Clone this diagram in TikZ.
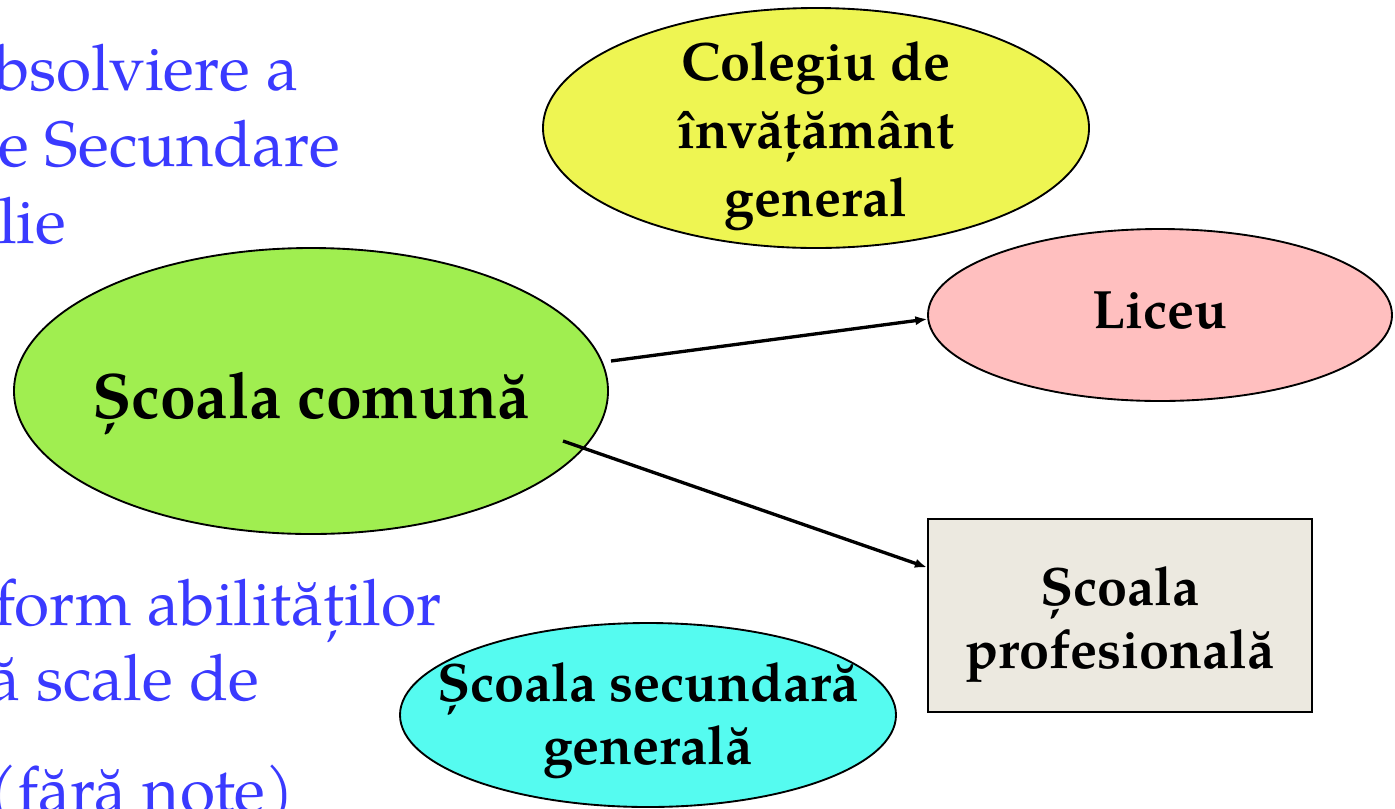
\documentclass[tikz,border=0pt]{standalone}
\usepackage{fontspec}
\setmainfont{TeX Gyre Pagella}
\usetikzlibrary{shapes.geometric,arrows.meta}
\definecolor{cgreen}{HTML}{A0EE50}
\definecolor{cyellow}{HTML}{EEF552}
\definecolor{cpink}{HTML}{FFBFBF}
\definecolor{ccyan}{HTML}{55FBF0}
\definecolor{cbox}{HTML}{ECE9E0}
\definecolor{cblue}{HTML}{3A3AFF}
\tikzset{
  oval/.style={ellipse,draw=black,line width=1.4pt,inner sep=0pt},
  boxnode/.style={rectangle,draw=black,line width=1.6pt,inner sep=0pt},
  lbl/.style={anchor=base,inner sep=0pt,font=\bfseries\fontsize{40.5}{48}\selectfont},
  bluetext/.style={anchor=base west,inner sep=0pt,text=cblue,font=\fontsize{48}{56}\selectfont},
  arr/.style={line width=2.5pt,-{Latex[length=9pt,width=7pt]}}
}
\begin{document}
\begin{tikzpicture}[x=0.75pt,y=-0.75pt]
\useasboundingbox (0,0) rectangle (1395,808);
\clip (0,0) rectangle (1395,808);
\fill[white] (0,0) rectangle (1395,808);
% left blue text
\node[bluetext] (t1) at (-6,90) {bsolviere a};
\node[bluetext] (t2) at (-2,166) {e Secundare};
\node[bluetext] (t3) at (-2,243) {lie};
\node[bluetext] (t4) at (-6,625) {form abilităților};
\node[bluetext] (t5) at (-12,700) {ă scale de};
\node[bluetext] (t6) at (-12,812) {(fără note)};
% shapes
\node[oval,fill=cyellow,minimum width=409.5pt,minimum height=180pt] (col) at (816,128) {};
\node[oval,fill=cpink,minimum width=348pt,minimum height=129pt] (li) at (1160,315) {};
\node[oval,fill=cgreen,minimum width=445.5pt,minimum height=214.5pt] (sc) at (311,391) {};
\node[oval,fill=ccyan,minimum width=372pt,minimum height=138pt] (ss) at (648,715) {};
\node[boxnode,fill=cbox,minimum width=288pt,minimum height=144.75pt] (sp) at (1120,615.5) {};
% labels
\node[lbl] (col1) at (816,80) {Colegiu de};
\node[lbl] (col2) at (816,148) {învățământ};
\node[lbl] (col3) at (816,216) {general};
\node[lbl] (li1) at (1160,328) {Liceu};
\node[lbl,font=\bfseries\fontsize{48.2}{56}\selectfont] (sc1) at (311,418) {Școala comună};
\node[lbl] (ss1) at (648,701) {Școala secundară};
\node[lbl] (ss2) at (648,764) {generală};
\node[lbl] (sp1) at (1120,605) {Școala};
\node[lbl] (sp2) at (1120,668) {profesională};
% connectors
\coordinate (a1) at (611,361);
\coordinate (a2) at (563,441);
\draw[arr] (a1) -- (li.181);
\draw[arr] (a2) -- (sp.166);
\end{tikzpicture}
\end{document}
